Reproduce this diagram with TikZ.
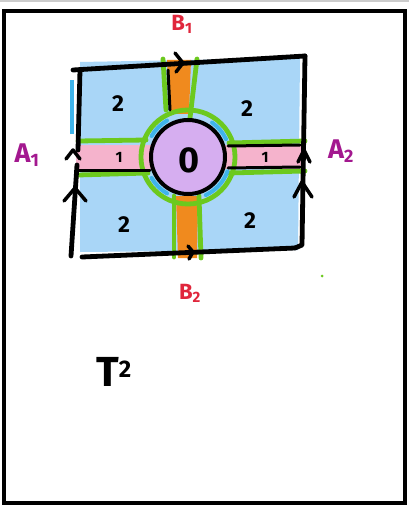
\documentclass[tikz,border=0pt]{standalone}
\usepackage{fontspec}
\setmainfont{Fira Sans}
\usetikzlibrary{calc}
\definecolor{skyb}{HTML}{A9D6F7}
\definecolor{pinkb}{HTML}{F5B3CC}
\definecolor{orangeb}{HTML}{F08A1E}
\definecolor{lilac}{HTML}{D6AEF0}
\definecolor{greenl}{HTML}{6CC91E}
\definecolor{cyanl}{HTML}{3FB4EA}
\definecolor{redl}{HTML}{E0263C}
\definecolor{purl}{HTML}{A3188F}
\tikzset{
  ink/.style={line width=4.8pt, line cap=round, line join=round, black},
  thin ink/.style={line width=3pt, line cap=round, black},
  gline/.style={line width=4.8pt, line cap=round, greenl},
  chev/.style={line width=3.5pt, line cap=round, line join=round, black},
  num/.style={font=\fontsize{23}{23}\selectfont\bfseries, black},
  redlab/.style={font=\fontsize{22}{22}\selectfont\bfseries, redl},
  purlab/.style={font=\fontsize{27}{27}\selectfont\bfseries, purl}
}
\begin{document}
\begin{tikzpicture}[x=1pt,y=-1pt]
\useasboundingbox (0,0) rectangle (409,508);
\fill[white] (0,0) rectangle (409,508);
\draw[gray!40, line width=1.2pt] (0,1) -- (409,1);
% outer frame
\draw[line width=4pt] (4,11) rectangle (405,503);

% blue squares
\fill[skyb] (80,62) -- (300,58) -- (298,250) -- (80,252) -- cycle;
\fill[cyanl] (70,80) rectangle (74,134);

% pink band
\fill[pinkb] (76,145) rectangle (305,169);
% orange bands
\fill[orangeb] (167,60) -- (191,60) -- (189,114) -- (170,114) -- cycle;
\fill[orangeb] (176,196) -- (198,196) -- (197,258) -- (178,258) -- cycle;

% green edges of bands
\draw[gline] (78,141) -- (146,140);
\draw[gline] (78,175) -- (148,173);
\draw[gline] (229,143) -- (305,141);
\draw[gline] (229,173) -- (305,171);
\draw[gline] (163,59) -- (166,110);
\draw[gline] (197,59) -- (190,118);
\draw[gline] (174,196) -- (174,257);
\draw[gline] (199,196) -- (201,258);
% green ring
\draw[gline] (188,157) circle[radius=47];

% cyan pieces
\draw[cyanl, line width=4pt, line cap=round] ($(188,157)+(150:42)$) arc[start angle=150, end angle=120, radius=42];
\draw[cyanl, line width=4pt, line cap=round] ($(188,157)+(65:42)$) arc[start angle=65, end angle=20, radius=42];
\draw[cyanl, line width=4pt, line cap=round] ($(188,157)+(210:42)$) arc[start angle=210, end angle=240, radius=42];
\draw[cyanl, line width=4pt, line cap=round] ($(188,157)+(-25:42)$) arc[start angle=-25, end angle=-55, radius=42];

% central disc
\node[circle, minimum size=74pt, inner sep=0pt, fill=lilac, draw=black, line width=4pt] (c) at (188,157) {};
\node[font=\fontsize{36}{36}\selectfont\bfseries, black] (zero) at (189,160) {0};

% black lines of pink band
\draw[thin ink] (78,170) -- (150,170);
\draw[thin ink] (228,146) -- (300,145);
\draw[thin ink] (228,168) -- (300,167);
\draw[thin ink] (168,70) -- (170,110);

% square edges
\draw[ink] (73,70) -- (305,56);
\draw[ink] (305,56) -- (302,245) -- (295,248);
\draw[ink] (82,257) -- (295,248);
\draw[ink] (80,70) -- (78,150);
\draw[ink] (77,165) -- (71,256);

% chevrons
\coordinate (tB) at (183,63);
\draw[chev] ($(tB)+(-8,-10)$) -- (tB) -- ($(tB)+(-7,9)$);
\coordinate (bB) at (193,252);
\draw[chev] ($(bB)+(-5,-6)$) -- (bB) -- ($(bB)+(-4,7)$);
\coordinate (lA1) at (73,150);
\draw[chev] ($(lA1)+(-7,9)$) -- (lA1) -- ($(lA1)+(7,9)$);
\coordinate (lA2) at (75,188);
\draw[chev] ($(lA2)+(-11,13)$) -- (lA2) -- ($(lA2)+(11,13)$);
\coordinate (rA1) at (304,150);
\draw[chev] ($(rA1)+(-6,12)$) -- (rA1) -- ($(rA1)+(6,12)$);
\coordinate (rA2) at (302,182);
\draw[chev] ($(rA2)+(-8,15)$) -- (rA2) -- ($(rA2)+(10,15)$);

% labels
\node[num] (n1) at (118,104) {2};
\node[num] (n2) at (247,109) {2};
\node[num] (n3) at (124,225) {2};
\node[num] (n4) at (250,221) {2};
\node[font=\fontsize{15}{15}\selectfont\bfseries] (o1) at (119,157) {1};
\node[font=\fontsize{15}{15}\selectfont\bfseries] (o2) at (265,157) {1};

\node[redlab] (b1) at (182,24) {B\textsubscript{\fontsize{15}{15}\selectfont 1}};
\node[redlab] (b2) at (190,293) {B\textsubscript{\fontsize{15}{15}\selectfont 2}};
\node[purlab] (a1) at (27,155) {A\textsubscript{\fontsize{18}{18}\selectfont 1}};
\node[purlab] (a2) at (341,151) {A\textsubscript{\fontsize{18}{18}\selectfont 2}};

\node[font=\fontsize{42}{42}\selectfont\bfseries, black] (t2) at (114,372) {T\textsuperscript{\fontsize{24}{24}\selectfont 2}};

\fill[greenl] (322,276) circle[radius=1.5];
\end{tikzpicture}
\end{document}
